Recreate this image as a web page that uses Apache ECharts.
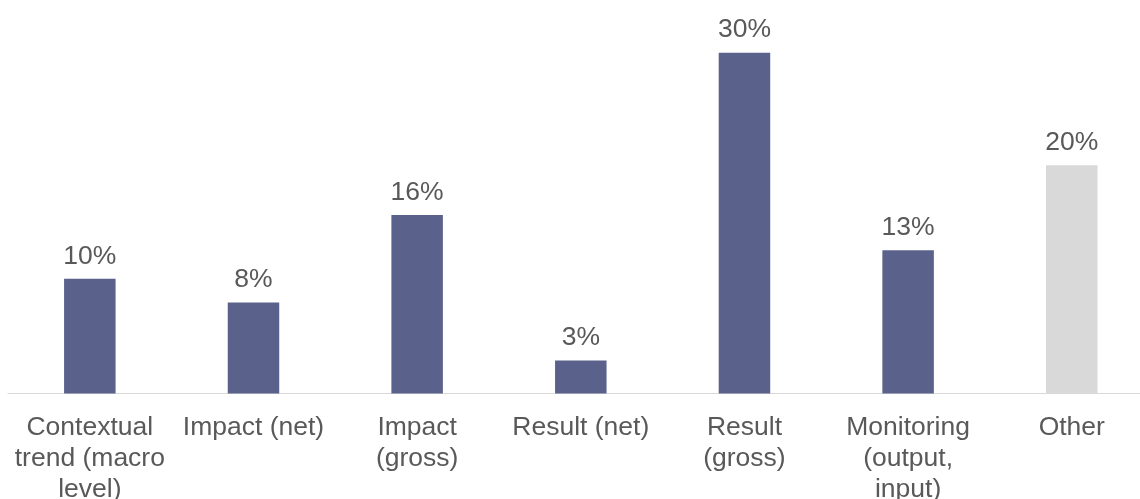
<!DOCTYPE html>
<html>
<head>
<meta charset="utf-8">
<script src="https://cdn.jsdelivr.net/npm/echarts@6/dist/echarts.min.js"></script>
<style>
html,body{margin:0;padding:0;background:#fff;}
#chart{width:1140px;height:499px;}
</style>
</head>
<body>
<div id="chart"></div>
<script>
const categories = [
  "Contextual\ntrend (macro\nlevel)",
  "Impact (net)",
  "Impact\n(gross)",
  "Result (net)",
  "Result\n(gross)",
  "Monitoring\n(output,\ninput)",
  "Other"
];
const shares = [10.1, 8.0, 15.7, 2.9, 30.0, 12.6, 20.1];
const barColors = ["#5A628B", "#5A628B", "#5A628B", "#5A628B", "#5A628B", "#5A628B", "#D9D9D9"];

const chart = echarts.init(document.getElementById('chart'), null, {renderer: 'canvas'});
chart.setOption({
  animation: false,
  backgroundColor: '#ffffff',
  grid: {left: 8, top: 7.2, right: -13.6, bottom: 105.5, containLabel: false, outerBoundsMode: 'none'},
  xAxis: {
    type: 'category',
    data: categories,
    axisLine: {show: true, lineStyle: {color: '#D9D9D9', width: 1}},
    axisTick: {show: false},
    axisLabel: {
      interval: 0,
      color: '#595959',
      fontFamily: 'Liberation Sans, Arial, sans-serif',
      fontSize: 26.5,
      lineHeight: 31,
      margin: 19
    }
  },
  yAxis: {
    type: 'value',
    min: 0,
    max: 34,
    show: false,
    splitLine: {show: false}
  },
  series: [{
    type: 'bar',
    barWidth: 51.5,
    data: shares.map((v, i) => ({value: v, itemStyle: {color: barColors[i]}})),
    label: {
      show: true,
      position: 'top',
      distance: 9,
      color: '#595959',
      fontFamily: 'Liberation Sans, Arial, sans-serif',
      fontSize: 26.5,
      formatter: p => Math.round(p.value) + '%'
    }
  }]
});
</script>
</body>
</html>
